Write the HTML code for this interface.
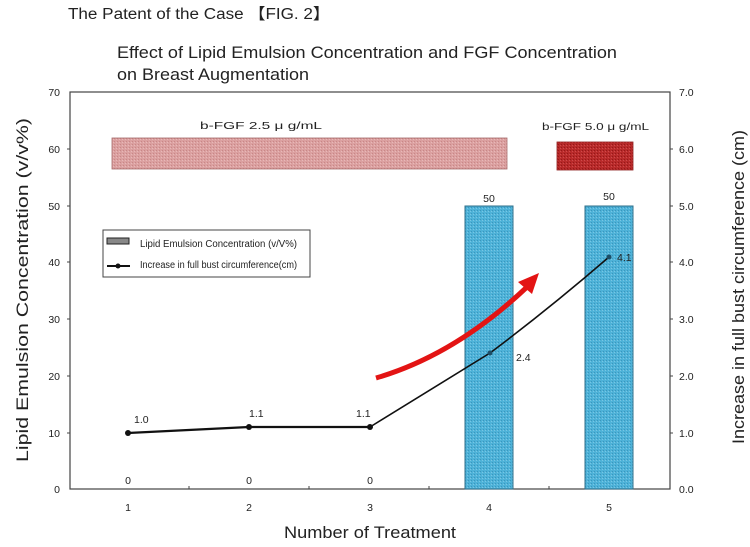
<!DOCTYPE html>
<html>
<head>
<meta charset="utf-8">
<style>
  html,body{margin:0;padding:0;background:#fff;}
  svg{display:block;}
  text{font-family:"Liberation Sans","Noto Sans CJK JP",sans-serif;fill:#222;}
</style>
</head>
<body>
<svg width="750" height="547" viewBox="0 0 750 547" xmlns="http://www.w3.org/2000/svg">
  <defs>
    <pattern id="pblue" width="3" height="3" patternUnits="userSpaceOnUse">
      <rect width="3" height="3" fill="#4eb2d8"/>
      <rect x="0" y="0" width="1" height="1" fill="#3a96bd"/>
      <rect x="2" y="1" width="1" height="1" fill="#78c6e4"/>
    </pattern>
    <pattern id="ppink" width="3" height="3" patternUnits="userSpaceOnUse">
      <rect width="3" height="3" fill="#dba0a0"/>
      <rect x="0" y="0" width="1" height="1" fill="#c98787"/>
      <rect x="2" y="1" width="1" height="1" fill="#e8b8b8"/>
    </pattern>
    <pattern id="pred" width="3" height="3" patternUnits="userSpaceOnUse">
      <rect width="3" height="3" fill="#b82a2a"/>
      <rect x="0" y="0" width="1" height="1" fill="#951818"/>
      <rect x="2" y="1" width="1" height="1" fill="#cf4a4a"/>
    </pattern>
  </defs>

  <!-- Titles -->
  <text x="68" y="19" font-size="15.5" textLength="262" lengthAdjust="spacingAndGlyphs">The Patent of the Case 【FIG. 2】</text>
  <text x="117" y="58" font-size="16.5" textLength="500" lengthAdjust="spacingAndGlyphs">Effect of Lipid Emulsion Concentration and FGF Concentration</text>
  <text x="117" y="80" font-size="16.5" textLength="192" lengthAdjust="spacingAndGlyphs">on Breast Augmentation</text>

  <!-- Plot frame -->
  <rect x="70" y="92" width="600" height="397" fill="none" stroke="#444" stroke-width="1.2"/>

  <!-- Left ticks & labels -->
  <g font-size="10.5" text-anchor="end">
    <text x="60" y="96">70</text>
    <text x="60" y="153">60</text>
    <text x="60" y="210">50</text>
    <text x="60" y="266">40</text>
    <text x="60" y="323">30</text>
    <text x="60" y="380">20</text>
    <text x="60" y="437">10</text>
    <text x="60" y="493">0</text>
  </g>
  <g stroke="#444" stroke-width="1">
    <line x1="67" y1="149" x2="70" y2="149"/>
    <line x1="67" y1="206" x2="70" y2="206"/>
    <line x1="67" y1="262" x2="70" y2="262"/>
    <line x1="67" y1="319" x2="70" y2="319"/>
    <line x1="67" y1="376" x2="70" y2="376"/>
    <line x1="67" y1="433" x2="70" y2="433"/>
    <line x1="670" y1="149" x2="673" y2="149"/>
    <line x1="670" y1="206" x2="673" y2="206"/>
    <line x1="670" y1="262" x2="673" y2="262"/>
    <line x1="670" y1="319" x2="673" y2="319"/>
    <line x1="670" y1="376" x2="673" y2="376"/>
    <line x1="670" y1="433" x2="673" y2="433"/>
    <line x1="189" y1="489" x2="189" y2="486"/>
    <line x1="309" y1="489" x2="309" y2="486"/>
    <line x1="429" y1="489" x2="429" y2="486"/>
    <line x1="549" y1="489" x2="549" y2="486"/>
  </g>

  <!-- Right labels -->
  <g font-size="10.5">
    <text x="679" y="96">7.0</text>
    <text x="679" y="153">6.0</text>
    <text x="679" y="210">5.0</text>
    <text x="679" y="266">4.0</text>
    <text x="679" y="323">3.0</text>
    <text x="679" y="380">2.0</text>
    <text x="679" y="437">1.0</text>
    <text x="679" y="493">0.0</text>
  </g>

  <!-- X labels -->
  <g font-size="10.5" text-anchor="middle">
    <text x="128" y="511">1</text>
    <text x="249" y="511">2</text>
    <text x="370" y="511">3</text>
    <text x="489" y="511">4</text>
    <text x="609" y="511">5</text>
  </g>

  <!-- Axis titles -->
  <text x="370" y="538" font-size="17" text-anchor="middle" textLength="172" lengthAdjust="spacingAndGlyphs">Number of Treatment</text>
  <text transform="translate(28,290) rotate(-90)" font-size="17" text-anchor="middle" textLength="344" lengthAdjust="spacingAndGlyphs">Lipid Emulsion Concentration (v/v%)</text>
  <text transform="translate(744,287) rotate(-90)" font-size="17" text-anchor="middle" textLength="314" lengthAdjust="spacingAndGlyphs">Increase in full bust circumference (cm)</text>

  <!-- FGF bands -->
  <rect x="112" y="138" width="395" height="31" fill="url(#ppink)" stroke="#a56a6a" stroke-width="0.8"/>
  <rect x="557" y="142" width="76" height="28" fill="url(#pred)" stroke="#8a1a1a" stroke-width="0.8"/>
  <text x="200" y="129" font-size="10.5" textLength="122" lengthAdjust="spacingAndGlyphs">b-FGF 2.5 μ g/mL</text>
  <text x="542" y="130" font-size="10.5" textLength="107" lengthAdjust="spacingAndGlyphs">b-FGF 5.0  μ g/mL</text>

  <!-- Bars -->
  <rect x="465" y="206" width="48" height="283" fill="url(#pblue)" stroke="#2f6f8a" stroke-width="1"/>
  <rect x="585" y="206" width="48" height="283" fill="url(#pblue)" stroke="#2f6f8a" stroke-width="1"/>
  <g font-size="10.5" text-anchor="middle">
    <text x="489" y="202">50</text>
    <text x="609" y="200">50</text>
    <text x="128" y="484">0</text>
    <text x="249" y="484">0</text>
    <text x="370" y="484">0</text>
  </g>

  <!-- Legend -->
  <rect x="103" y="230" width="207" height="47" fill="#fff" stroke="#444" stroke-width="1"/>
  <rect x="107" y="238" width="22" height="6" fill="#888" stroke="#222" stroke-width="1"/>
  <line x1="107" y1="266" x2="130" y2="266" stroke="#111" stroke-width="2"/>
  <circle cx="118" cy="266" r="2.5" fill="#111"/>
  <text x="140" y="247" font-size="10" textLength="157" lengthAdjust="spacingAndGlyphs">Lipid Emulsion Concentration (v/V%)</text>
  <text x="140" y="268" font-size="10" textLength="157" lengthAdjust="spacingAndGlyphs">Increase in full bust circumference(cm)</text>

  <!-- Line series -->
  <polyline points="128,433 249,427 370,427" fill="none" stroke="#111" stroke-width="2.2"/>
  <path d="M370,427 Q430,390 490,353 Q550,308 609,257" fill="none" stroke="#111" stroke-width="1.6"/>
  <g fill="#111">
    <circle cx="128" cy="433" r="3"/>
    <circle cx="249" cy="427" r="3"/>
    <circle cx="370" cy="427" r="3"/>
    <circle cx="490" cy="353" r="2.5" fill="#1d4d66"/>
    <circle cx="609" cy="257" r="2.5" fill="#1d4d66"/>
  </g>
  <g font-size="10.5">
    <text x="134" y="423">1.0</text>
    <text x="249" y="417">1.1</text>
    <text x="356" y="417">1.1</text>
    <text x="516" y="361">2.4</text>
    <text x="617" y="261" fill="#1d4d66">4.1</text>
  </g>

  <!-- Red arrow -->
  <path d="M376,378 Q455,355 527,287" fill="none" stroke="#e31414" stroke-width="5"/>
  <polygon points="539,273 518,282 532,294" fill="#e31414"/>
</svg>
</body>
</html>
